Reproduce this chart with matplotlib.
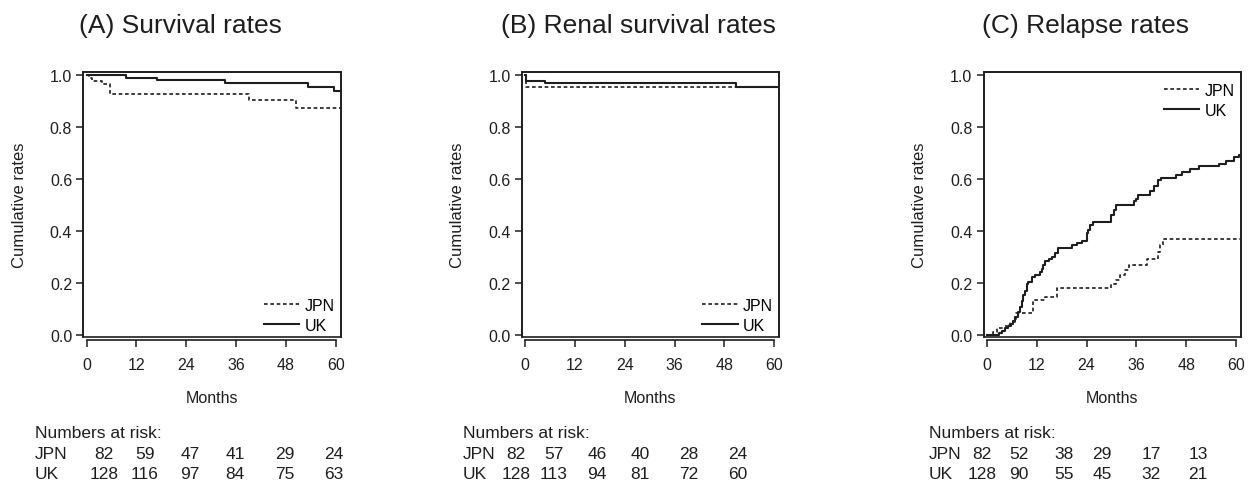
import matplotlib
import matplotlib.pyplot as plt
from matplotlib.patches import Rectangle

matplotlib.use("Agg")

plt.rcParams["font.family"] = ["Liberation Sans", "DejaVu Sans"]

# months at which numbers at risk are reported
risk_months = [0, 12, 24, 36, 48, 60]
groups = ["JPN", "UK"]

# (A) overall survival
surv_jpn_t = [0, 0.5, 1.2, 3.6, 5.6, 39.0, 50.4, 61.0]
surv_jpn_v = [1.0, 0.988, 0.976, 0.963, 0.927, 0.903, 0.873, 0.873]
surv_uk_t = [0, 9.4, 17.0, 33.4, 53.4, 59.6, 61.0]
surv_uk_v = [1.0, 0.988, 0.978, 0.968, 0.953, 0.938, 0.938]
surv_risk_jpn = [82, 59, 47, 41, 29, 24]
surv_risk_uk = [128, 116, 97, 84, 75, 63]

# (B) renal survival
renal_jpn_t = [0, 0.3, 61.0]
renal_jpn_v = [1.0, 0.951, 0.951]
renal_uk_t = [0, 0.2, 4.8, 50.8, 61.0]
renal_uk_v = [1.0, 0.977, 0.969, 0.953, 0.953]
renal_risk_jpn = [82, 57, 46, 40, 28, 24]
renal_risk_uk = [128, 113, 94, 81, 72, 60]

# (C) cumulative relapse
rel_jpn_t = [0, 1.5, 2.5, 4.5, 5.5, 7.0, 11.0, 14.0, 16.8, 30.0, 31.0, 32.0,
             33.2, 34.2, 38.6, 41.2, 41.8, 42.3, 61.0]
rel_jpn_v = [0, 0.012, 0.025, 0.037, 0.05, 0.085, 0.134, 0.146, 0.182, 0.195,
             0.21, 0.232, 0.25, 0.268, 0.293, 0.32, 0.345, 0.37, 0.37]
rel_uk_t = [0, 3.0, 3.6, 4.4, 5.0, 5.8, 6.2, 6.8, 7.4, 8.0, 8.4, 8.8, 9.2,
            9.6, 10.0, 10.8, 11.6, 12.8, 13.2, 13.6, 14.0, 15.0, 15.6, 16.4,
            17.2, 20.4, 21.6, 22.8, 24.0, 24.4, 24.8, 25.6, 30.0, 30.6, 31.2,
            35.4, 35.8, 36.4, 39.4, 40.2, 41.2, 42.0, 45.6, 47.0, 49.0, 51.0,
            56.0, 57.6, 59.6, 60.8, 61.0]
rel_uk_v = [0, 0.008, 0.016, 0.025, 0.033, 0.041, 0.055, 0.07, 0.09, 0.108,
            0.13, 0.153, 0.17, 0.195, 0.205, 0.223, 0.229, 0.242, 0.255,
            0.268, 0.283, 0.29, 0.30, 0.315, 0.334, 0.344, 0.355, 0.36, 0.39,
            0.405, 0.421, 0.434, 0.459, 0.479, 0.498, 0.515, 0.523, 0.539,
            0.555, 0.574, 0.594, 0.603, 0.613, 0.626, 0.638, 0.649, 0.658,
            0.670, 0.683, 0.692, 0.692]
rel_risk_jpn = [82, 52, 38, 29, 17, 13]
rel_risk_uk = [128, 90, 55, 45, 32, 21]

W, H = 1248, 485
INK = "#1e1e1e"

panels = [
    dict(title="(A) Survival rates", title_x=180, left=83.3,
         jpn=(surv_jpn_t, surv_jpn_v), uk=(surv_uk_t, surv_uk_v),
         risk=(surv_risk_jpn, surv_risk_uk), legend="lower",
         lab_x=35, cols=[104, 145, 190, 235, 285, 334]),
    dict(title="(B) Renal survival rates", title_x=638, left=521.7,
         jpn=(renal_jpn_t, renal_jpn_v), uk=(renal_uk_t, renal_uk_v),
         risk=(renal_risk_jpn, renal_risk_uk), legend="lower",
         lab_x=463, cols=[516, 554, 597, 640, 689, 738]),
    dict(title="(C) Relapse rates", title_x=1085, left=983.5,
         jpn=(rel_jpn_t, rel_jpn_v), uk=(rel_uk_t, rel_uk_v),
         risk=(rel_risk_jpn, rel_risk_uk), legend="upper",
         lab_x=929, cols=[982, 1019, 1064, 1102, 1151, 1198]),
]

fig = plt.figure(figsize=(W / 100, H / 100), dpi=100)

box_top, box_bot, box_w = 72.7, 338.3, 257.5

for p in panels:
    ax = fig.add_axes([p["left"] / W, 1 - box_bot / H, box_w / W,
                       (box_bot - box_top) / H])
    ax.step(*p["jpn"], where="post", color=INK, lw=1.2,
            linestyle=(0, (2.2, 1.6)), label="JPN")
    ax.step(*p["uk"], where="post", color=INK, lw=1.5, label="UK")

    ax.set_xlim(-0.8, 61.2)
    ax.set_ylim(-0.009, 1.0115)
    ax.set_xticks(risk_months)
    ax.set_yticks([0, 0.2, 0.4, 0.6, 0.8, 1.0])
    ax.set_yticklabels(["0.0", "0.2", "0.4", "0.6", "0.8", "1.0"])

    for s in ax.spines.values():
        s.set_color(INK)
        s.set_linewidth(1.2)
    ax.spines["bottom"].set_position(("outward", 2))
    ax.spines["bottom"].set_bounds(0, 60)
    ax.add_patch(Rectangle((0, 0), 1, 1, transform=ax.transAxes, fill=False,
                           ec=INK, lw=1.2, clip_on=False))

    ax.tick_params(direction="out", length=5, width=1.1, colors=INK,
                   labelsize=11.5, pad=3)
    ax.tick_params(axis="x", pad=7)
    ax.set_xlabel("Months", fontsize=11.5, color=INK, labelpad=13)
    ax.set_ylabel("Cumulative rates", fontsize=12, color=INK)
    ax.yaxis.set_label_coords(-0.22, 0.5)

    if p["legend"] == "lower":
        ax.legend(loc="lower right", bbox_to_anchor=(1.02, -0.025),
                  frameon=False, fontsize=11.5, handlelength=2.2,
                  handletextpad=0.35, labelspacing=0.3, borderpad=0.2)
    else:
        ax.legend(loc="upper right", bbox_to_anchor=(1.02, 1.0),
                  frameon=False, fontsize=11.5, handlelength=2.2,
                  handletextpad=0.35, labelspacing=0.3, borderpad=0.2)

    fig.text(p["title_x"] / W, 1 - 26 / H, p["title"], ha="center",
             va="center", fontsize=19, color=INK)

    # numbers at risk table
    fig.text(p["lab_x"] / W, 1 - 434 / H, "Numbers at risk:", ha="left",
             va="center", fontsize=12.5, color=INK)
    for row_y, name, counts in zip([455, 475], groups, p["risk"]):
        fig.text(p["lab_x"] / W, 1 - row_y / H, name, ha="left",
                 va="center", fontsize=12.5, color=INK)
        for cx, n in zip(p["cols"], counts):
            fig.text(cx / W, 1 - row_y / H, str(n), ha="center",
                     va="center", fontsize=12.5, color=INK)

fig.savefig("out.png", dpi=100)
plt.close(fig)
